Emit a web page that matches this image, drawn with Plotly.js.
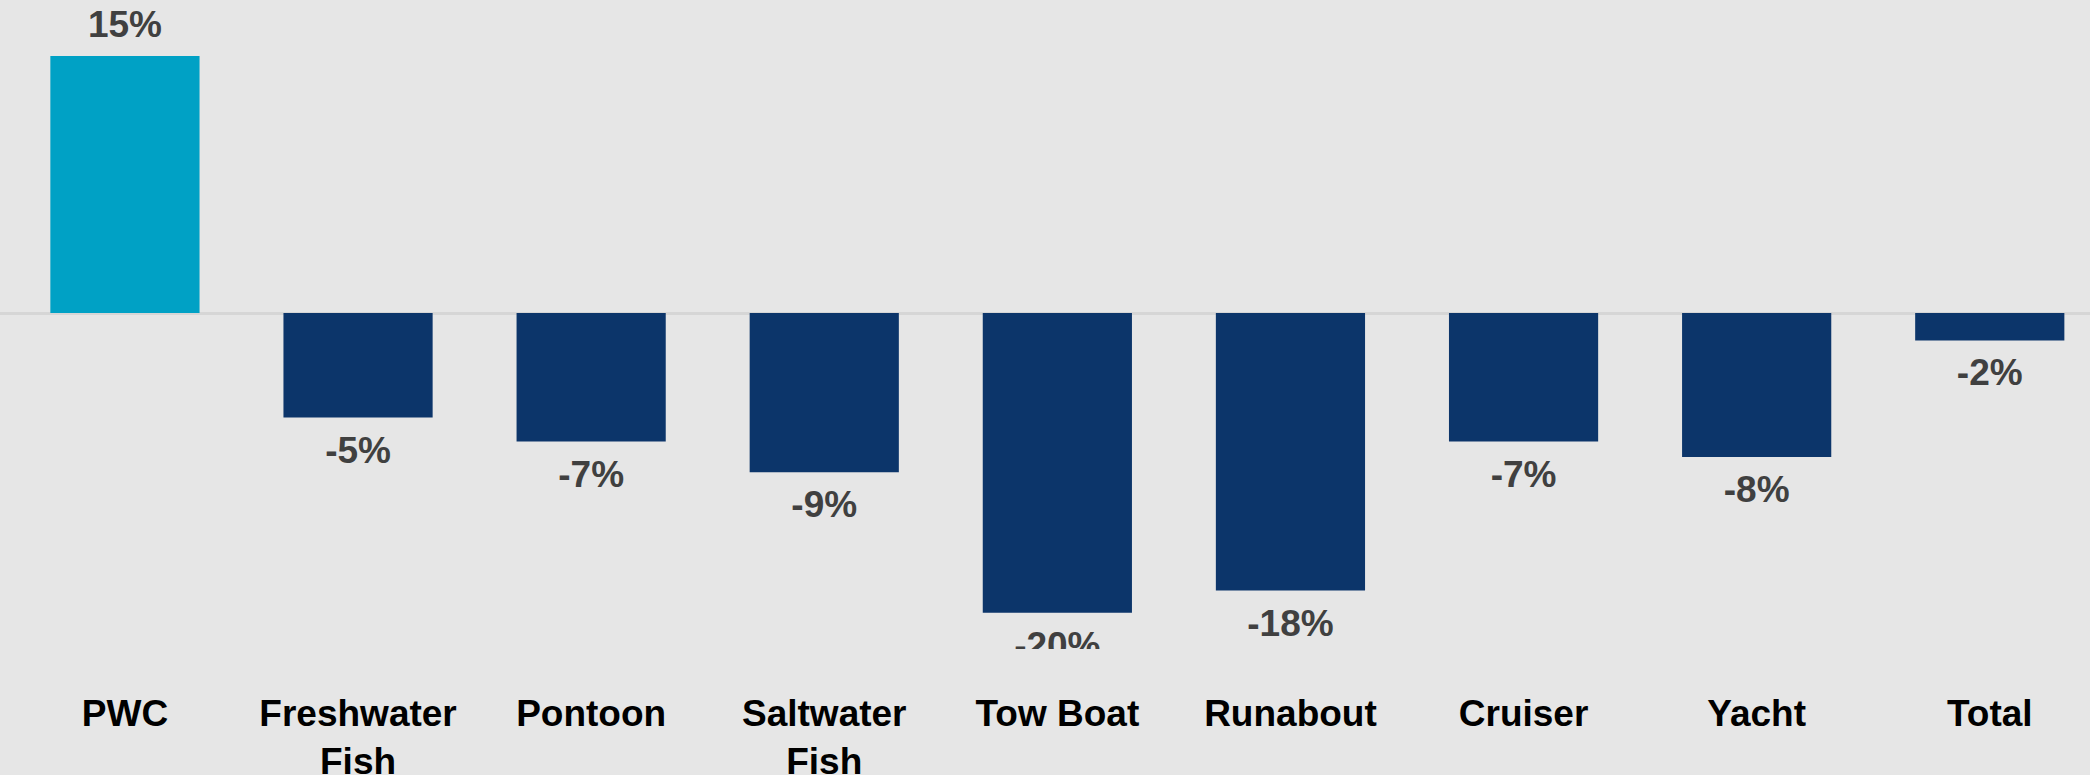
<!DOCTYPE html>
<html>
<head>
<meta charset="utf-8">
<script src="https://cdn.plot.ly/plotly-3.0.1.min.js"></script>
<style>
  html, body { margin: 0; padding: 0; background: #e6e6e6; }
  #chart { width: 2090px; height: 775px; }
</style>
</head>
<body>
<div id="chart"></div>
<script>
// Categories (tick labels)
const categories = ['PWC', 'Freshwater<br>Fish', 'Pontoon', 'Saltwater<br>Fish', 'Tow Boat', 'Runabout', 'Cruiser', 'Yacht', 'Total'];
// Bar values (% change) as drawn in the picture
const values = [15, -6.1, -7.5, -9.3, -17.5, -16.2, -7.5, -8.4, -1.6];
// Data labels as printed
const valueLabels = ['15%', '-5%', '-7%', '-9%', '-20%', '-18%', '-7%', '-8%', '-2%'];

const POS_COLOR = '#00a1c5';
const NEG_COLOR = '#0c356a';
const FONT = '"Liberation Sans", Arial, sans-serif';

const barTrace = {
  type: 'bar',
  x: categories,
  y: values,
  marker: { color: values.map(v => v >= 0 ? POS_COLOR : NEG_COLOR), line: { width: 0 } },
  hoverinfo: 'skip',
  showlegend: false
};

const labelTrace = {
  type: 'scatter',
  mode: 'markers+text',
  x: categories,
  y: values,
  text: valueLabels,
  textposition: values.map(v => v >= 0 ? 'top center' : 'bottom center'),
  textfont: { family: FONT, size: 37, color: '#404040', weight: 'bold' },
  marker: { size: values.map(v => v >= 0 ? 14 : 26), opacity: 0 },
  cliponaxis: true,
  hoverinfo: 'skip',
  showlegend: false
};

const layout = {
  width: 2090,
  height: 775,
  margin: { l: 0, r: 0, t: 0, b: 126, pad: 0 },
  paper_bgcolor: '#e6e6e6',
  plot_bgcolor: '#e6e6e6',
  bargap: 0.36,
  showlegend: false,
  xaxis: {
    type: 'category',
    range: [-0.536, 8.43],
    showgrid: false,
    showline: false,
    zeroline: false,
    ticks: '',
    ticklabelstandoff: 39,
    tickfont: { family: FONT, size: 37, color: '#000000', weight: 'bold' },
    fixedrange: true
  },
  yaxis: {
    range: [-19.61, 18.27],
    showgrid: false,
    showticklabels: false,
    showline: false,
    ticks: '',
    zeroline: true,
    zerolinecolor: '#d6d6d6',
    zerolinewidth: 3,
    fixedrange: true
  },
  font: { family: FONT }
};

Plotly.newPlot('chart', [barTrace, labelTrace], layout, { displayModeBar: false, staticPlot: true });
</script>
</body>
</html>
